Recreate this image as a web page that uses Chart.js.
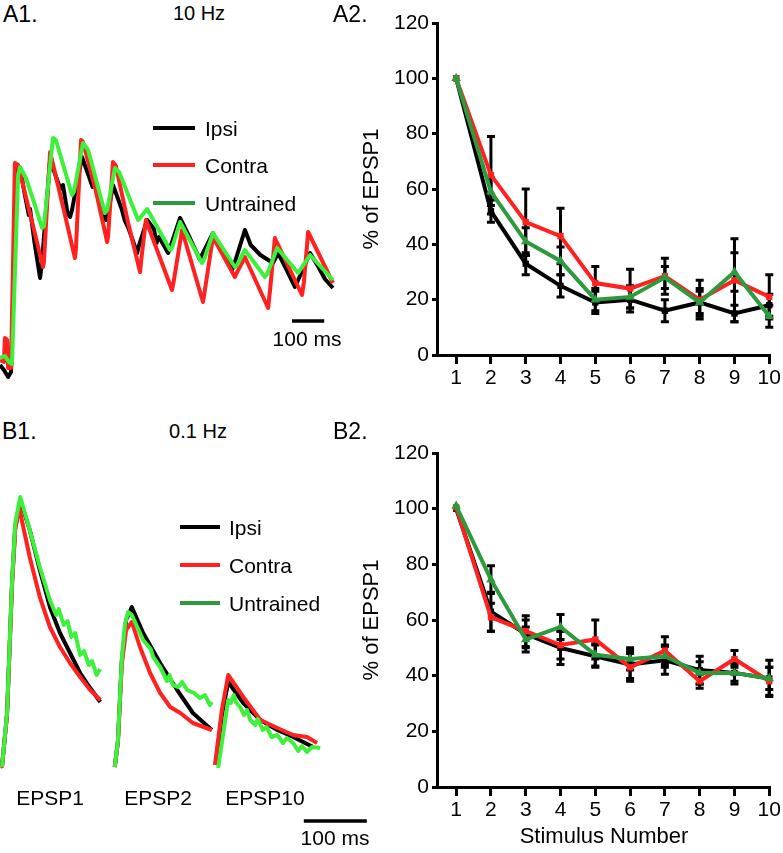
<!DOCTYPE html>
<html>
<head>
<meta charset="utf-8">
<script src="https://cdn.jsdelivr.net/npm/chart.js@4.4.1/dist/chart.umd.min.js"></script>
<style>
  html, body { margin: 0; padding: 0; background: #fff; }
  #fig { position: relative; width: 783px; height: 853px; overflow: hidden;
         font-family: "Liberation Sans", Arial, Helvetica, sans-serif; color: #000; }
  #fig canvas { position: absolute; }
  .t { position: absolute; line-height: 1; white-space: nowrap; transform: translateY(-50%); }
  .c { transform: translate(-50%, -50%); }
  .sw { position: absolute; height: 4px; transform: translateY(-50%); }
</style>
</head>
<body>
<div id="fig">
  <canvas id="a1" width="345" height="275" style="left:0;top:110px"></canvas>
  <canvas id="b1" width="375" height="370" style="left:0;top:460px"></canvas>
  <canvas id="a2" width="443" height="400" style="left:340px;top:0"></canvas>
  <canvas id="b2" width="443" height="433" style="left:340px;top:420px"></canvas>

  <div class="t" style="left:3px;top:14px;font-size:23px">A1.</div>
  <div class="t c" style="left:199px;top:13px;font-size:20px">10 Hz</div>
  <div class="t" style="left:333px;top:14px;font-size:23px">A2.</div>
  <div class="t" style="left:2px;top:431px;font-size:23px">B1.</div>
  <div class="t c" style="left:198px;top:431px;font-size:20px">0.1 Hz</div>
  <div class="t" style="left:333px;top:431px;font-size:23px">B2.</div>

  <div class="t c" style="left:50px;top:797px;font-size:21px">EPSP1</div>
  <div class="t c" style="left:158px;top:797px;font-size:21px">EPSP2</div>
  <div class="t c" style="left:265px;top:797px;font-size:21px">EPSP10</div>

  <div class="t c" style="left:307px;top:338px;font-size:21px">100 ms</div>
  <div class="t c" style="left:335px;top:837px;font-size:21px">100 ms</div>
</div>

<script>
// --- series summary (% of EPSP1 per stimulus) ---
const stimulus = [1, 2, 3, 4, 5, 6, 7, 8, 9, 10];
const yTicks = [0, 20, 40, 60, 80, 100, 120];
const groups = ['Ipsi', 'Contra', 'Untrained'];

const a2Ipsi = [100, 52, 33, 25, 19, 20, 16, 19, 15, 18];
const a2IpsiErr = [0, 4, 4, 4, 4, 4.5, 4, 5, 3, 4];
const a2Contra = [100, 65, 48, 43, 26, 24, 28.5, 20, 27, 21];
const a2ContraErr = [0, 14, 12, 10, 6, 7, 6.5, 7, 15, 8];
const a2Untrained = [100, 59, 41, 34, 20, 21, 28, 19, 30, 14];
const a2UntrainedErr = [0, 5, 5, 5, 4, 4, 4, 4, 7, 4];

const b2Ipsi = [100, 63, 55, 50, 47, 44, 45.5, 42, 41, 39];
const b2IpsiErr = [0, 7, 5, 6, 4, 5, 5, 5, 3, 6.5];
const b2Contra = [100.5, 61, 56, 51, 53, 43, 49, 38, 46, 38];
const b2ContraErr = [0, 5, 5.5, 5, 7, 5, 5, 2.5, 3, 5];
const b2Untrained = [101, 74.5, 53, 57.5, 47.5, 46, 47, 41, 41, 39];
const b2UntrainedErr = [0, 5, 4.5, 4.5, 4, 4, 4, 4, 4, 4];

// --- example traces, [time ms, mV] ---
const a1Ipsi = [[-37,0.1],[-25,-0.15],[-12,-0.5],[-3,-0.25],[16,10.1],[25,9.95],[40,8.6],[52,7.6],[56,7.9],[70,6.2],[87,4.45],[93,5.25],[118,10.35],
  [150,8.9],[158,9.1],[172,7.7],[180,7.5],[186,7.85],[217,10.5],[250,9.0],[256,9.2],[275,8.0],[291,7.35],[298,7.65],[313,9.1],
  [340,7.9],[350,7.3],[362,6.9],[388,5.7],[394,6.1],[419,7.35],[440,6.9],[448,6.2],[456,6.5],[484,5.7],[490,5.95],
  [521,7.45],[550,6.5],[583,5.35],[589,5.6],[623,6.7],[650,5.8],[682,4.85],[691,5.25],[722,6.85],[740,6.1],[770,5.6],[809,5.2],[825,5.7],[850,4.9],[877,4.0],[887,4.35],
  [924,5.7],[950,5.0],[970,4.4],[995,3.95]];
const a1Contra = [[-37,0.35],[-25,0.25],[-22,1.45],[-15,1.35],[-12,-0.05],[-3,-0.05],[9,10.2],[19,10.1],[60,7.4],[96,5.0],[99,5.25],
  [118,10.75],[160,7.9],[195,5.45],[198,5.85],[214,11.35],[220,11.25],[260,8.8],[295,6.25],[298,6.55],[313,10.25],[322,10.05],[360,7.2],[397,4.75],
  [400,5.25],[415,7.35],[496,3.85],[502,4.35],[527,6.85],[592,3.25],[598,3.85],[623,6.5],[691,4.5],[698,4.75],[722,5.5],
  [794,2.95],[800,3.85],[815,6.45],[899,3.6],[905,4.25],[918,6.75],[995,4.2]];
const a1Untrained = [[-37,0.45],[-22,0.55],[-9,0.25],[0,0.15],[19,9.6],[25,10.0],[43,9.45],[71,8.1],[93,6.95],[99,7.05],
  [127,11.45],[136,11.35],[186,8.6],[192,8.75],[220,11.2],[236,10.85],[288,7.7],[295,7.85],[319,9.95],[332,9.75],
  [391,7.35],[397,7.45],[419,7.9],[490,5.85],[496,5.95],[521,7.25],[589,5.2],[595,5.35],[623,6.7],[691,5.0],[698,5.1],
  [722,5.85],[784,4.5],[791,4.65],[822,5.95],[887,4.7],[893,4.85],[924,5.6],[995,4.35]];

const b1Ipsi = [
  [[0,0],[8,2.65],[16,9.25],[21,12.0],[30,13.25],[44,11.85],[60,9.85],[76,8.0],[92,6.7],[108,5.7],[124,4.7],[140,3.95],[156,3.25]],
  [[179,0],[184,1.3],[190,5.25],[197,7.35],[206,8.0],[224,6.7],[251,5.2],[278,3.85],[303,2.7],[333,1.85]],
  [[340,0.25],[349,2.6],[359,4.25],[383,3.2],[410,2.35],[437,1.85],[462,1.5],[494,1.0]]];
const b1Contra = [
  [[-3,0],[0,0.05],[8,2.6],[16,9.1],[21,11.85],[27,13.0],[44,10.5],[60,8.5],[76,7.0],[92,6.0],[108,5.2],[124,4.5],[140,3.85],[156,3.35]],
  [[179,0],[184,1.25],[190,5.1],[197,6.85],[206,7.25],[219,6.0],[235,4.7],[251,3.7],[267,3.0],[283,2.7],[303,2.2],[333,1.85]],
  [[338,0.1],[349,2.85],[359,4.6],[383,3.5],[410,2.35],[437,1.95],[462,1.6],[484,1.5],[500,1.2]]];
const b1Untrained = [
  [[0,0],[8,2.7],[16,9.35],[21,12.2],[29,13.5],[44,11.85],[60,10.0],[76,8.35],[86,7.6],[90,7.9],[98,7.1],[104,7.3],
   [110,6.5],[116,6.7],[124,5.6],[130,5.8],[138,5.1],[143,5.3],[150,4.6],[156,4.9]],
  [[179,0],[184,1.35],[190,5.35],[195,7.1],[200,7.75],[206,7.6],[224,6.35],[236,5.9],[240,5.5],[251,5.0],[262,4.3],[266,4.6],
   [271,4.1],[280,4.0],[286,4.25],[294,3.85],[305,3.7],[314,3.45],[322,3.6],[330,3.1],[333,3.25]],
  [[343,-0.05],[352,1.85],[359,3.35],[363,3.2],[368,3.6],[372,3.2],[378,3.0],[384,2.6],[389,2.85],[394,2.35],[402,2.1],
   [406,2.4],[414,1.85],[420,2.0],[428,1.5],[437,1.6],[446,1.2],[452,1.45],[462,1.2],[470,0.8],[476,1.05],[484,0.75],[492,1.0],[505,0.95]]];

const a1Bar = { t: 868, v: 2.3, len: 100 };
const b1Bar = { t: 479, v: -2.7, len: 100 };

const colors = { Ipsi: '#000000', Contra: '#ff2020', Untrained: '#2e9a3e' };
const traceGreen = '#3cf03c';
const markers = { Ipsi: 'rect', Contra: 'rect', Untrained: 'triangle' };

Chart.defaults.font.family = '"Liberation Sans", Arial, Helvetica, sans-serif';
Chart.defaults.color = '#000';

const errorBars = {
  id: 'errorBars',
  beforeDatasetsDraw(chart) {
    const { ctx, scales: { x, y } } = chart;
    ctx.save();
    ctx.strokeStyle = '#000';
    ctx.lineWidth = 3;
    chart.data.datasets.forEach(ds => {
      ds.data.forEach((p, i) => {
        const e = ds.errors[i];
        if (!e) return;
        const px = x.getPixelForValue(p.x);
        const hi = y.getPixelForValue(p.y + e), lo = y.getPixelForValue(p.y - e);
        ctx.beginPath();
        ctx.moveTo(px, hi); ctx.lineTo(px, lo);
        ctx.moveTo(px - 4, hi); ctx.lineTo(px + 4, hi);
        ctx.moveTo(px - 4, lo); ctx.lineTo(px + 4, lo);
        ctx.stroke();
      });
    });
    ctx.restore();
  }
};

const scaleBar = {
  id: 'scaleBar',
  afterDatasetsDraw(chart, args, opts) {
    const { ctx, scales: { x, y } } = chart;
    const py = y.getPixelForValue(opts.v);
    ctx.save();
    ctx.strokeStyle = '#000';
    ctx.lineWidth = 3.5;
    ctx.beginPath();
    ctx.moveTo(x.getPixelForValue(opts.t), py);
    ctx.lineTo(x.getPixelForValue(opts.t + opts.len), py);
    ctx.stroke();
    ctx.restore();
  }
};

function stpChart(id, values, errs, padTop, xHeight, xTitle) {
  const order = { Untrained: 0, Contra: 1, Ipsi: 2 };
  return new Chart(document.getElementById(id), {
    type: 'line',
    data: {
      datasets: groups.map((g, k) => ({
        label: g,
        data: stimulus.map((s, i) => ({ x: s, y: values[k][i] })),
        errors: errs[k],
        borderColor: colors[g],
        backgroundColor: colors[g],
        borderWidth: 4,
        pointStyle: markers[g],
        pointRadius: g === 'Untrained' ? 5.5 : 4.5,
        pointBorderWidth: 0,
        tension: 0,
        clip: false,
        order: order[g]
      }))
    },
    options: {
      responsive: false, animation: false, events: [],
      layout: { padding: { top: padTop, right: 12, left: 0, bottom: 0 } },
      plugins: { legend: { display: false }, tooltip: { enabled: false } },
      scales: {
        x: {
          type: 'linear', min: 0.45, max: 10.05,
          afterBuildTicks: s => { s.ticks = stimulus.map(v => ({ value: v })); },
          afterFit: s => { s.height = xHeight; },
          border: { display: true, color: '#000', width: 3 },
          grid: { display: true, drawOnChartArea: false, drawTicks: true, tickLength: 9, tickWidth: 3, tickColor: '#000' },
          ticks: { font: { size: 21 }, padding: 2, maxRotation: 0, autoSkip: false },
          title: { display: !!xTitle, text: xTitle, font: { size: 22, lineHeight: 1 }, padding: { top: 0, bottom: 5 } }
        },
        y: {
          min: 0, max: 120,
          afterBuildTicks: s => { s.ticks = yTicks.map(v => ({ value: v })); },
          afterFit: s => { s.width = 97; },
          border: { display: true, color: '#000', width: 3 },
          grid: { display: true, drawOnChartArea: false, drawTicks: true, tickLength: 5, tickWidth: 3, tickColor: '#000' },
          ticks: { font: { size: 21 }, padding: 3 },
          title: { display: true, text: '% of EPSP1', font: { size: 22, lineHeight: 1 }, padding: { top: 21, bottom: 0 } }
        }
      }
    },
    plugins: [errorBars]
  });
}

function toPoints(trace) {
  // a trace is either a list of [t, v] or a list of such segments (gaps between them)
  if (Array.isArray(trace[0][0])) {
    const out = [];
    trace.forEach((seg, i) => {
      if (i) out.push({ x: seg[0][0] - 0.5, y: null });
      seg.forEach(p => out.push({ x: p[0], y: p[1] }));
    });
    return out;
  }
  return trace.map(p => ({ x: p[0], y: p[1] }));
}

function traceChart(id, traces, xr, yr, bar) {
  const order = { Untrained: 0, Contra: 1, Ipsi: 2 };
  return new Chart(document.getElementById(id), {
    type: 'line',
    data: {
      datasets: groups.map((g, k) => ({
        label: g,
        data: toPoints(traces[k]),
        borderColor: g === 'Untrained' ? traceGreen : colors[g],
        borderWidth: 4,
        pointRadius: 0,
        tension: 0,
        borderJoinStyle: 'round',
        spanGaps: false,
        clip: false,
        order: order[g]
      }))
    },
    options: {
      responsive: false, animation: false, events: [],
      layout: { padding: 0 },
      plugins: { legend: { display: false }, tooltip: { enabled: false }, scaleBar: bar },
      scales: {
        x: { type: 'linear', display: false, min: xr[0], max: xr[1] },
        y: { display: false, min: yr[0], max: yr[1] }
      }
    },
    plugins: [scaleBar]
  });
}

function legend(left, swatchW, textLeft, ys) {
  const fig = document.getElementById('fig');
  groups.forEach((g, k) => {
    const sw = document.createElement('div');
    sw.className = 'sw';
    sw.style.cssText = `left:${left}px;top:${ys[k]}px;width:${swatchW}px;background:${colors[g]}`;
    fig.appendChild(sw);
    const tx = document.createElement('div');
    tx.className = 't';
    tx.style.cssText = `left:${textLeft}px;top:${ys[k]}px;font-size:21px`;
    tx.textContent = g;
    fig.appendChild(tx);
  });
}

traceChart('a1', [a1Ipsi, a1Contra, a1Untrained], [-37.2, 1032.3], [-0.9, 12.85], a1Bar);
traceChart('b1', [b1Ipsi, b1Contra, b1Untrained], [-3.17, 592], [-3.15, 15.35], b1Bar);
stpChart('a2', [a2Ipsi, a2Contra, a2Untrained], [a2IpsiErr, a2ContraErr, a2UntrainedErr], 23, 45, '');
stpChart('b2', [b2Ipsi, b2Contra, b2Untrained], [b2IpsiErr, b2ContraErr, b2UntrainedErr], 33, 66, 'Stimulus Number');
legend(153, 42, 205, [128, 165, 203]);
legend(180, 40, 229, [527, 565, 603]);
</script>
</body>
</html>
